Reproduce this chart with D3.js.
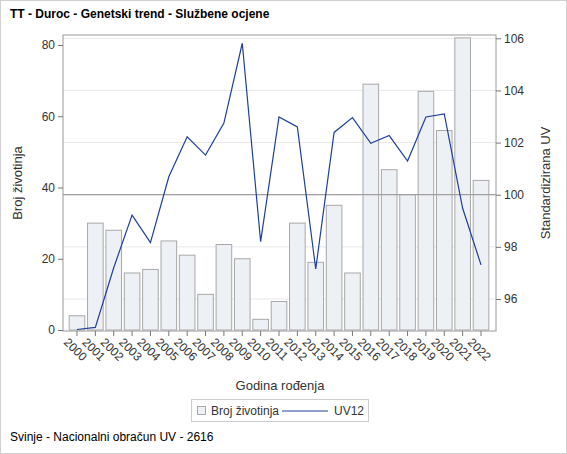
<!DOCTYPE html>
<html><head><meta charset="utf-8">
<script src="https://cdn.jsdelivr.net/npm/d3@7"></script>
<style>body{margin:0;background:#fff}svg{display:block;font-family:Arial,"Liberation Sans",sans-serif}</style>
</head><body><svg id="c" width="567" height="454"></svg>
<script>
const years=["2000","2001","2002","2003","2004","2005","2006","2007","2008","2009","2010","2011","2012","2013","2014","2015","2016","2017","2018","2019","2020","2021","2022"];
const brojZivotinja=[4,30,28,16,17,25,21,10,24,20,3,8,30,19,35,16,69,45,38,67,56,82,42];
const uv12=[94.83,94.91,97.2,99.22,98.16,100.69,102.22,101.52,102.75,105.81,98.2,102.98,102.6,97.15,102.39,102.96,101.97,102.27,101.29,102.98,103.1,99.48,97.31];
const leftTicks=[0,20,40,60,80];
const rightTicks=[96,98,100,102,104,106];

const svg=d3.select("#c");
svg.append("rect").attr("x",0.5).attr("y",0.5).attr("width",566).attr("height",453).attr("fill","#fff").attr("stroke","#d0d0d0");
const L=63,R=496,T=35,B=331;
const x=d3.scaleBand().domain(years).range([67.8,490.2]).paddingInner(0.15).paddingOuter(0.075);
const yL=d3.scaleLinear().domain([0,80]).range([330,45]);
const yR=d3.scaleLinear().domain([96,106]).range([299,38.3]);

// gridlines
svg.append("g").selectAll("line").data(rightTicks).join("line")
 .attr("x1",L).attr("x2",R).attr("y1",d=>yR(d)).attr("y2",d=>yR(d)).attr("stroke","#e8e8e8");
// bars
svg.append("g").selectAll("rect").data(brojZivotinja).join("rect")
 .attr("x",(d,i)=>x(years[i])).attr("width",x.bandwidth())
 .attr("y",d=>yL(d)).attr("height",d=>yL(0)-yL(d))
 .attr("fill","#edf0f5").attr("stroke","#a8a8a8").attr("stroke-width",1);
// ref line at 100
svg.append("line").attr("x1",L).attr("x2",R).attr("y1",yR(100)).attr("y2",yR(100)).attr("stroke","#a0a0a0").attr("stroke-width",1.3);
// line
svg.append("path").datum(uv12).attr("fill","none").attr("stroke","#1f3f9c").attr("stroke-width",1.2)
 .attr("d",d3.line().x((d,i)=>x(years[i])+x.bandwidth()/2).y(d=>yR(d)));
// frame
svg.append("rect").attr("x",L).attr("y",T).attr("width",R-L).attr("height",B-T).attr("fill","none").attr("stroke","#9a9a9a");

const fs="12px";
const gl=svg.append("g").attr("transform",`translate(${L},0)`).call(d3.axisLeft(yL).tickValues(leftTicks).tickSize(5).tickPadding(3));
const gr=svg.append("g").attr("transform",`translate(${R},0)`).call(d3.axisRight(yR).tickValues(rightTicks).tickSize(5).tickPadding(3));
const gb=svg.append("g").attr("transform",`translate(0,${B})`).call(d3.axisBottom(x).tickSize(5).tickPadding(2));
[gl,gr,gb].forEach(g=>{g.select(".domain").remove();g.selectAll(".tick line").attr("stroke","#777");g.selectAll("text").attr("fill","#333").style("font-size",fs).style("font-family","Arial,'Liberation Sans',sans-serif");});
gb.selectAll("text").attr("text-anchor","start").attr("dy","0.35em").attr("transform","translate(-6,4) rotate(45)");

svg.append("text").attr("x",10).attr("y",18).text("TT - Duroc - Genetski trend - Službene ocjene").style("font-size","12px").style("font-weight","bold").attr("fill","#000");
svg.append("text").attr("transform","translate(22,183) rotate(-90)").attr("text-anchor","middle").text("Broj životinja").style("font-size","13px").attr("fill","#333");
svg.append("text").attr("transform","translate(550,183) rotate(-90)").attr("text-anchor","middle").text("Standardizirana UV").style("font-size","13px").attr("fill","#333");
svg.append("text").attr("x",280).attr("y",390).attr("text-anchor","middle").text("Godina rođenja").style("font-size","13px").attr("fill","#333");
// legend
svg.append("rect").attr("x",191.5).attr("y",399.5).attr("width",177).attr("height",22).attr("fill","#fff").attr("stroke","#ccc");
svg.append("rect").attr("x",197.5).attr("y",406.5).attr("width",8).attr("height",8).attr("fill","#edf0f5").attr("stroke","#a8a8a8");
svg.append("text").attr("x",211).attr("y",415).text("Broj životinja").style("font-size","12px").attr("fill","#333");
svg.append("line").attr("x1",282).attr("x2",328).attr("y1",411).attr("y2",411).attr("stroke","#1f3f9c").attr("stroke-width",1.2);
svg.append("text").attr("x",334).attr("y",415).text("UV12").style("font-size","12px").attr("fill","#333");
svg.append("text").attr("x",10).attr("y",441).text("Svinje - Nacionalni obračun UV - 2616").style("font-size","12px").attr("fill","#000");
</script></body></html>
